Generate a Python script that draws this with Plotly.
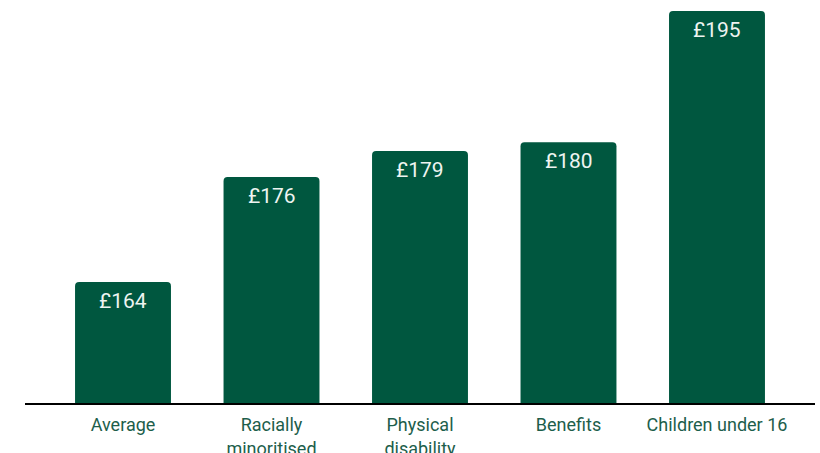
import plotly.graph_objects as go

categories = ["Average", "Racially<br>minoritised", "Physical<br>disability", "Benefits", "Children under 16"]
values = [164, 176, 179, 180, 195]
labels = ["£164", "£176", "£179", "£180", "£195"]

fig = go.Figure(go.Bar(
    x=categories, y=values,
    marker=dict(color="#00573F", line=dict(width=0), cornerradius=4),
    width=0.646,
    hoverinfo="skip",
))

for c, v, t in zip(categories, values, labels):
    fig.add_annotation(x=c, y=v, text=t, showarrow=False, yanchor="middle", yshift=-19,
                       font=dict(family="Roboto", size=21, color="#eef4f1"))

fig.update_layout(
    width=820, height=453,
    margin=dict(l=25, r=5, t=0, b=50, autoexpand=False),
    plot_bgcolor="white", paper_bgcolor="white",
    showlegend=False,
    xaxis=dict(range=[-0.66, 4.66], showline=True, linecolor="black", linewidth=1.5,
               ticks="", ticklabelstandoff=5, automargin=False,
               tickfont=dict(family="Roboto", size=18, color="#1d5e4b"),
               showgrid=False, fixedrange=True),
    yaxis=dict(range=[150.16, 196.26], visible=False, showgrid=False, fixedrange=True,
               automargin=False),
)

fig.write_html("out.html")
